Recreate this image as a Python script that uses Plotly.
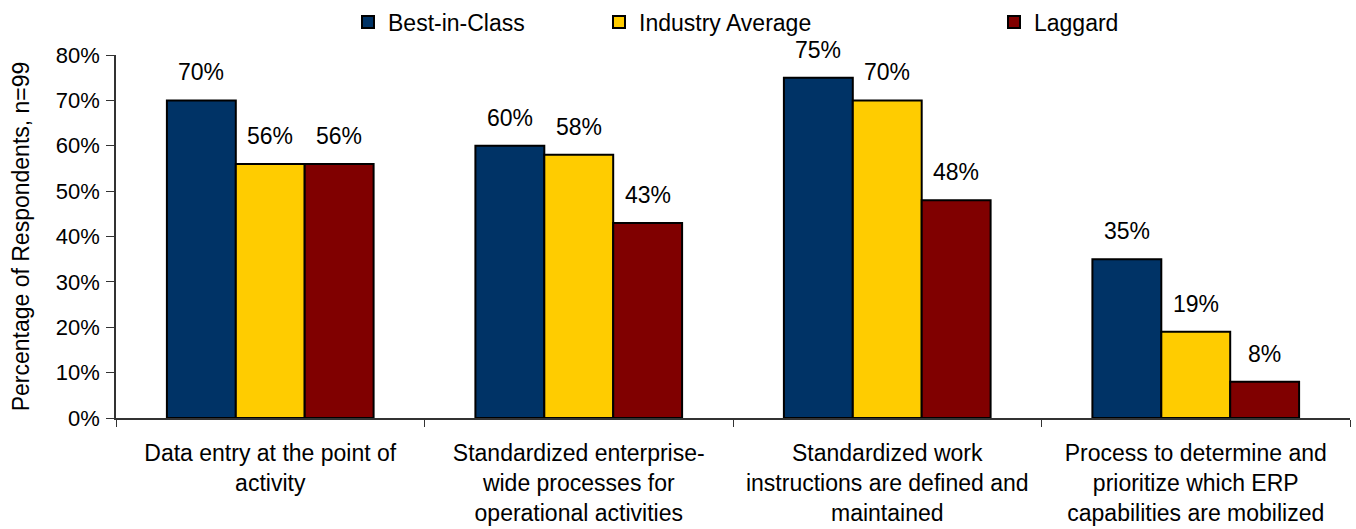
import plotly.graph_objects as go

categories = [
    "Data entry at the point of<br>activity",
    "Standardized enterprise-<br>wide processes for<br>operational activities",
    "Standardized work<br>instructions are defined and<br>maintained",
    "Process to determine and<br>prioritize which ERP<br>capabilities are mobilized",
]
series_names = ["Best-in-Class", "Industry Average", "Laggard"]
best_in_class = [70, 60, 75, 35]
industry_average = [56, 58, 70, 19]
laggard = [56, 43, 48, 8]
y_ticks = [0, 10, 20, 30, 40, 50, 60, 70, 80]

colors = ["#003366", "#FFCC00", "#800000"]
series_values = [best_in_class, industry_average, laggard]
legend_ids = ["legend", "legend2", "legend3"]
legend_x = [348, 599, 994]

FONT = "Liberation Sans, Arial, sans-serif"
W, H = 1356, 529
bar_px = 69  # rendered width of one bar, used to offset value labels

fig = go.Figure()
for name, vals, col, lg in zip(series_names, series_values, colors, legend_ids):
    fig.add_trace(go.Bar(
        x=categories, y=vals, name=name, legend=lg,
        marker=dict(color=col, line=dict(color="#000000", width=2)),
    ))

annotations = []
for i, vals in enumerate(series_values):
    for cat, v in zip(categories, vals):
        annotations.append(dict(
            x=cat, y=v, xref="x", yref="y", text=f"{v}%", showarrow=False,
            xshift=(i - 1) * bar_px, yshift=28,
            font=dict(family=FONT, size=23, color="#000000"),
        ))

layout_legends = {}
for lg, lx in zip(legend_ids, legend_x):
    layout_legends[lg] = dict(
        orientation="h", xref="container", yref="container",
        x=lx / W, y=1 - 22 / H, xanchor="left", yanchor="middle",
        font=dict(family=FONT, size=23, color="#000000"),
        bgcolor="rgba(0,0,0,0)",
    )

fig.update_layout(
    width=W, height=H,
    margin=dict(l=116, r=6, t=55, b=111),
    paper_bgcolor="white", plot_bgcolor="white",
    barmode="group", bargap=0.33, bargroupgap=0,
    font=dict(family=FONT, size=23, color="#000000"),
    annotations=annotations,
    showlegend=True,
    **layout_legends,
)
fig.update_xaxes(
    automargin=False,
    showline=True, linecolor="#333333", linewidth=1.5,
    ticks="outside", tickson="boundaries", ticklen=7, tickcolor="#333333",
    ticklabelstandoff=14,
    tickfont=dict(family=FONT, size=23, color="#000000"),
    showgrid=False,
)
fig.update_yaxes(
    automargin=False,
    range=[0, 80], tickvals=y_ticks, ticktext=[f"{t}%" for t in y_ticks],
    showline=True, linecolor="#333333", linewidth=1.5,
    ticks="outside", ticklen=8, tickcolor="#333333",
    ticklabelstandoff=2,
    tickfont=dict(family=FONT, size=22, color="#000000"),
    showgrid=False, zeroline=False,
    title=dict(text="Percentage of Respondents, n=99", standoff=20,
               font=dict(family=FONT, size=23, color="#000000")),
)

fig.write_html("out.html")
